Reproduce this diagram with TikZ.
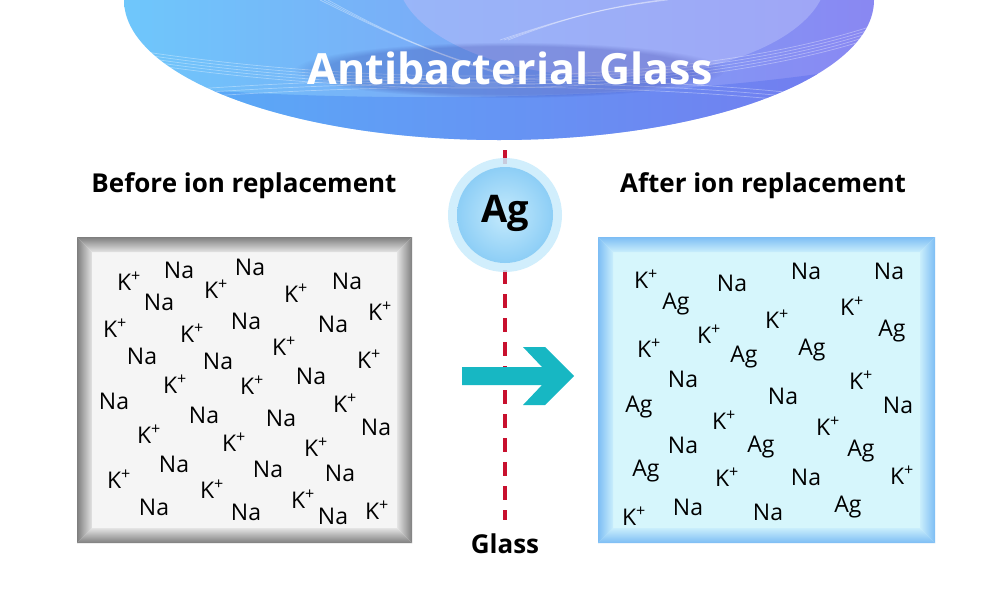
\documentclass[tikz,border=0pt]{standalone}
\usepackage{fontspec}
\setmainfont{Open Sans}
\usetikzlibrary{fadings}
\definecolor{ellL}{HTML}{6EC8FB}
\definecolor{ellR}{HTML}{8A86F2}
\definecolor{ellLd}{HTML}{4FA9F8}
\definecolor{ellRd}{HTML}{6E74EE}
\definecolor{ellLight}{HTML}{B4BCFA}
\definecolor{dashred}{HTML}{C8102E}
\definecolor{arrowc}{HTML}{17B7C3}
\definecolor{ringc}{HTML}{C9ECFC}
\definecolor{agin}{HTML}{C4EAFC}
\definecolor{agout}{HTML}{8DCEF6}
\definecolor{grayout}{HTML}{7E7E7E}
\definecolor{grayin}{HTML}{E4E4E4}
\definecolor{grayfill}{HTML}{F5F5F5}
\definecolor{blueout}{HTML}{7DBDF4}
\definecolor{bluein}{HTML}{C9EEFC}
\definecolor{bluefill}{HTML}{D6F6FC}
\newcommand\Kp{K\textsuperscript{+}}
\newcommand\bevelbox[7]{%
  \fill[#7] (#1,#2) rectangle (#3,#4);
  \shade[top color=#5, bottom color=#6] (#1,#2) -- (#3,#2) -- ({#3-15},{#2+15}) -- ({#1+15},{#2+15}) -- cycle;
  \shade[top color=#6, bottom color=#5] (#1,#4) -- (#3,#4) -- ({#3-15},{#4-15}) -- ({#1+15},{#4-15}) -- cycle;
  \shade[left color=#5, right color=#6] (#1,#2) -- ({#1+15},{#2+15}) -- ({#1+15},{#4-15}) -- (#1,#4) -- cycle;
  \shade[left color=#6, right color=#5] (#3,#2) -- ({#3-15},{#2+15}) -- ({#3-15},{#4-15}) -- (#3,#4) -- cycle;
}
\tikzset{
  ion/.style={font=\fontsize{23}{25}\selectfont, text=black, inner sep=0pt},
  heading/.style={font=\bfseries\fontsize{26}{28}\selectfont, text=black, inner sep=0pt},
  wline/.style={white, opacity=0.35, line width=0.7pt},
}
\begin{document}
\begin{tikzpicture}[x=1pt,y=-1pt]
\useasboundingbox (0,0) rectangle (1000,600);
\fill[white] (0,0) rectangle (1000,600);
% ---- banner ellipse
\begin{scope}
  \clip (0,0) rectangle (1000,600);
  \clip (499,0) ellipse [x radius=375pt, y radius=140pt];
  \shade[left color=ellL, right color=ellR] (110,-150) rectangle (890,150);
  \fill[ellLight, opacity=0.55] (612,-25) ellipse [x radius=215pt, y radius=102pt];
  \shade[left color=ellLd, right color=ellRd, opacity=0.75]
     (110,82) .. controls (350,108) and (700,100) .. (890,62) -- (890,150) -- (110,150) -- cycle;
  \foreach \d in {0,3,6,9,12} {
    \draw[wline] (120,{48+\d}) .. controls (380,{90+\d}) and (700,{88+\d}) .. (890,{20+\d});
  }
  \foreach \d in {0,4,8} {
    \draw[wline] (120,{95+\d}) .. controls (400,{70+\d}) and (700,{75+\d}) .. (890,{105+\d});
  }
  \foreach \d in {0,4,8} {
    \draw[wline] ({320+\d},0) .. controls (400,40) and (450,60) .. ({520+\d},80);
    \draw[wline] ({500+\d},40) .. controls (560,20) and (600,8) .. ({660+\d},0);
  }
  % soft dark glow behind the title
  \fill[blue!45!black, opacity=0.18, path fading=circle with fuzzy edge 15 percent]
     (510,70) ellipse [x radius=215pt, y radius=28pt];
\end{scope}
\node[text=white, font=\bfseries\fontsize{43}{46}\selectfont, inner sep=0pt] (title) at (510,68) {Antibacterial Glass};
% ---- dashed glass line
\coordinate (gtop) at (505,150);
\coordinate (gbot) at (505,520);
\draw[dashred, line width=4.5pt, dash pattern=on 14pt off 10pt] (gtop) -- (gbot);
% ---- Ag ion
\fill[ringc, opacity=0.85] (505,215) circle [radius=57pt];
\shade[inner color=agin, outer color=agout] (505,215) circle [radius=48pt];
\node[font=\bfseries\fontsize{38}{40}\selectfont, inner sep=0pt] (ag) at (505,213) {Ag};
% ---- arrow
\fill[arrowc] (462,367) -- (542,367) -- (523,347) -- (545,347) -- (574,376) -- (545,405) -- (523,405) -- (542,385) -- (462,385) -- cycle;
% ---- headings
\node[heading] (before) at (244,186) {Before ion replacement};
\node[heading] (after) at (763,186) {After ion replacement};
\node[heading] (glass) at (505,544) {Glass};
% ---- boxes
\bevelbox{77}{237}{412}{543}{grayout}{grayin}{grayfill}
\bevelbox{598}{237}{935}{543}{blueout}{bluein}{bluefill}
% ---- left ions
\foreach \x/\y/\t [count=\i] in {
 129/281/\Kp, 179/270/Na, 250/267/Na, 216/289/\Kp, 159/302/Na, 296/293/\Kp,
 347/281/Na, 380/311/\Kp, 115/328/\Kp, 192/333/\Kp, 246/321/Na, 333/324/Na,
 284/346/\Kp, 142/356/Na, 218/361/Na, 369/359/\Kp, 311/376/Na, 114/401/Na,
 175/384/\Kp, 252/385/\Kp, 345/403/\Kp, 204/415/Na, 281/418/Na, 376/427/Na,
 149/434/\Kp, 234/442/\Kp, 316/447/\Kp, 174/464/Na, 268/469/Na, 340/473/Na,
 119/479/\Kp, 212/489/\Kp, 303/499/\Kp, 154/507/Na, 246/512/Na, 333/516/Na,
 377/510/\Kp} {
  \node[ion] (L\i) at (\x,\y) {\t};
}
% ---- right ions
\foreach \x/\y/\t [count=\i] in {
 646/279/\Kp, 732/283/Na, 806/271/Na, 889/271/Na, 676/304/Ag, 852/306/\Kp,
 777/319/\Kp, 892/331/Ag, 709/334/\Kp, 649/348/\Kp, 744/357/Ag, 812/350/Ag,
 683/379/Na, 861/380/\Kp, 783/396/Na, 639/407/Ag, 898/405/Na, 724/420/\Kp,
 828/426/\Kp, 683/445/Na, 761/447/Ag, 861/451/Ag, 646/471/Ag, 727/477/\Kp,
 806/477/Na, 902/475/\Kp, 634/516/\Kp, 688/507/Na, 768/512/Na, 848/507/Ag} {
  \node[ion] (R\i) at (\x,\y) {\t};
}
\end{tikzpicture}
\end{document}
